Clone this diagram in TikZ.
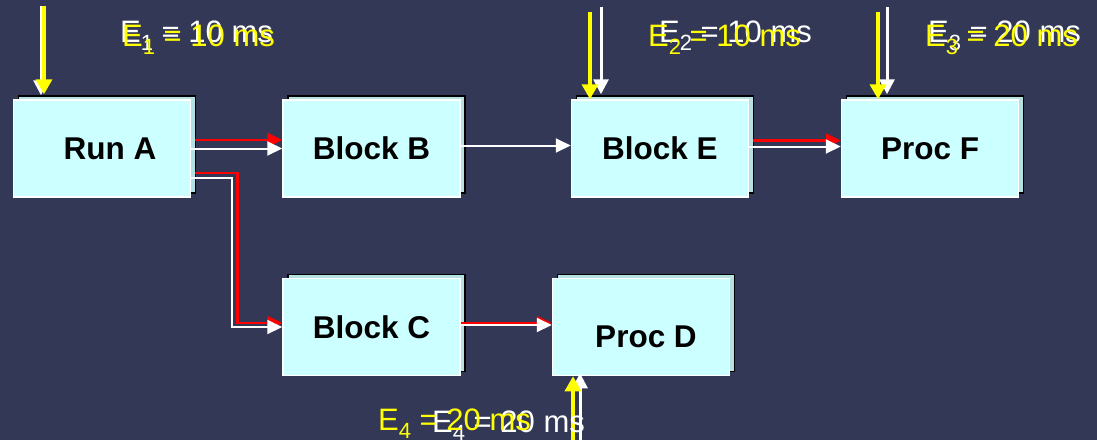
\documentclass[tikz,border=0pt]{standalone}
\usepackage{fontspec}
\setmainfont{Liberation Sans}
\usetikzlibrary{positioning,calc,arrows.meta,shadows}
\definecolor{slidebg}{HTML}{323856}
\definecolor{boxfill}{HTML}{CCFFFF}
\definecolor{boxback}{HTML}{B4E1E1}
\definecolor{hotred}{HTML}{FF0000}
\definecolor{hotyellow}{HTML}{FFFF00}
\newcommand{\deadline}[2]{E\raisebox{-8pt}{\fontsize{22}{22}\selectfont #1} = #2 ms}

\begin{document}
\begin{tikzpicture}[x=1pt, y=-1pt, >={Triangle[length=15pt,width=14pt]},
                    stage/.style={rectangle, draw=white, line width=1.5pt, fill=boxfill,
                      minimum width=177pt, minimum height=97pt, inner sep=0pt,
                      font=\fontsize{31.5}{36}\selectfont\bfseries,
                      general shadow={shadow xshift=5pt, shadow yshift=4pt,
                        fill=boxback, draw=black, line width=1.5pt}},
                    flow/.style={->, white, line width=2pt},
                    hotflow/.style={->, hotred, line width=2.5pt},
                    feed/.style={->, white, line width=3pt, >={Triangle[length=15pt,width=15pt]}},
                    hotfeed/.style={->, hotyellow, line width=3.5pt, >={Triangle[length=15pt,width=16pt]}},
                    timing/.style={anchor=base west, inner sep=0pt, font=\fontsize{31}{36}\selectfont}]
  \useasboundingbox (0,0) rectangle (1097,440);
  \fill[slidebg] (0,0) rectangle (1097,440);

  % stages
  \node[stage] (runa) at (102,148.5) {\hspace*{16pt}Run A};
  \node[stage, right=91pt of runa] (blockb) {Block B};
  \node[stage, right=110pt of blockb] (blocke) {Block E};
  \node[stage, right=91.5pt of blocke] (procf) {Proc F};
  \node[stage, below=80pt of blockb] (blockc) {Block C};
  \node[stage, right=91pt of blockc, text height=42pt] (procd) {\hspace*{10pt}Proc D};

  % data flow
  \draw[hotflow] ([shift={(4pt,8.5pt)}]runa.east) -- ([yshift=8.5pt]blockb.west);
  \draw[flow] (runa.east) -- (blockb.west);
  \draw[hotflow] ([shift={(4pt,-24.5pt)}]runa.east) -- ++(42,0) |- ([yshift=4pt]blockc.west);
  \draw[flow] ([yshift=-29.5pt]runa.east) -- ++(41,0) |- (blockc.west);
  \draw[flow] ([yshift=3pt]blockb.east) -- ([yshift=3pt]blocke.west);
  \draw[hotflow] ([shift={(4pt,8pt)}]blocke.east) -- ([yshift=8pt]procf.west);
  \draw[flow] ([yshift=2pt]blocke.east) -- ([yshift=2pt]procf.west);
  \draw[hotflow] ([yshift=4pt]blockc.east) -- ([yshift=4pt]procd.west);
  \draw[flow] ([yshift=2pt]blockc.east) -- ([yshift=2pt]procd.west);

  % external events
  \coordinate (in1w) at (41,6);
  \coordinate (in1y) at (44,6);
  \coordinate (in2w) at (601,7);
  \coordinate (in2y) at (590,12);
  \coordinate (in3w) at (887,7);
  \coordinate (in3y) at (878,12);
  \coordinate (in4w) at (580,440);
  \coordinate (in4y) at (573,440);
  \draw[feed] (in1w) -- ($(in1w |- runa.north)+(0,-4)$);
  \draw[hotfeed] (in1y) -- ($(in1y |- runa.north)+(0,-5)$);
  \draw[feed] (in2w) -- ($(in2w |- blocke.north)+(0,-5)$);
  \draw[hotfeed] (in2y) -- (in2y |- blocke.north);
  \draw[feed] (in3w) -- ($(in3w |- procf.north)+(0,-5)$);
  \draw[hotfeed] (in3y) -- (in3y |- procf.north);
  \draw[feed] (in4w) -- ($(in4w |- procd.south)+(0,-3)$);
  \draw[hotfeed] (in4y) -- (in4y |- procd.south);

  % deadlines
  \node[timing, white] (t1w) at (120,42) {\deadline{1}{10}};
  \node[timing, hotyellow] (t1y) at (122,46) {\deadline{1}{10}};
  \node[timing, white] (t2w) at (659,42) {\deadline{2}{10}};
  \node[timing, hotyellow] (t2y) at (648,46) {\deadline{2}{10}};
  \node[timing, white] (t3w) at (928,42) {\deadline{3}{20}};
  \node[timing, hotyellow] (t3y) at (925,46) {\deadline{3}{20}};
  \node[timing, white] (t4w) at (432,432) {\deadline{4}{20}};
  \node[timing, hotyellow] (t4y) at (378,430) {\deadline{4}{20}};
\end{tikzpicture}
\end{document}
